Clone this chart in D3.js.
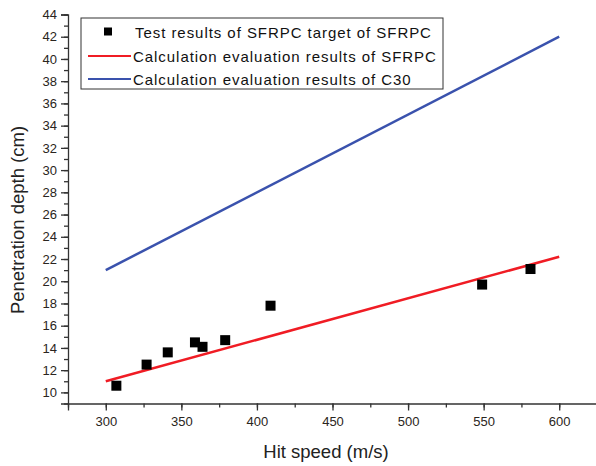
<!DOCTYPE html>
<html lang="en">
<head>
    <meta charset="UTF-8">
    <title>Penetration depth</title>
    <style>
        html, body { margin: 0; background: #fff; }
        .axis text { font-family: "Liberation Sans", Arial, sans-serif; font-size: 13px; fill: #2a2520; }
        .axis path, .axis line { stroke: #333; stroke-width: 1.3px; }
        .title { font-family: "Liberation Sans", Arial, sans-serif; font-size: 18.5px; fill: #222; }
        .legend text { font-family: "Liberation Sans", Arial, sans-serif; font-size: 15px; fill: #111; letter-spacing: 0.95px; }
    </style>
</head>
<body>
    <svg id="chart" width="596" height="466"></svg>
    <script src="https://d3js.org/d3.v7.min.js"></script>
    <script>
        // test points (speed m/s, depth cm)
        var testSpeed = [307, 327, 341, 359, 364, 379, 409, 549, 581];
        var testDepth = [10.6, 12.5, 13.6, 14.5, 14.1, 14.7, 17.8, 19.7, 21.1];
        // calculated lines, end points only
        var calcSpeed = [300, 600];
        var sfrpcDepth = [11.0, 22.2];
        var c30Depth = [21.0, 42.0];
        var xTicks = [300, 350, 400, 450, 500, 550, 600];
        var yTicks = [10, 12, 14, 16, 18, 20, 22, 24, 26, 28, 30, 32, 34, 36, 38, 40, 42, 44];
        var legendLabels = ["Test results of SFRPC target of SFRPC",
            "Calculation evaluation results of SFRPC",
            "Calculation evaluation results of C30"];

        var svg = d3.select("#chart");
        var x = d3.scaleLinear().domain([275, 625]).range([68, 597]);
        var y = d3.scaleLinear().domain([9, 44]).range([403.5, 14.5]);

        // minor ticks first
        svg.append("g").attr("class", "axis")
            .attr("transform", "translate(0,403.5)")
            .call(d3.axisBottom(x).tickValues(d3.range(275, 626, 25)).tickSize(4).tickFormat(""))
            .select(".domain").remove();
        svg.append("g").attr("class", "axis")
            .attr("transform", "translate(68,0)")
            .call(d3.axisLeft(y).tickValues(d3.range(9, 45, 1)).tickSize(4).tickFormat(""))
            .select(".domain").remove();

        svg.append("g").attr("class", "axis")
            .attr("transform", "translate(0,403.5)")
            .call(d3.axisBottom(x).tickValues(xTicks).tickSizeOuter(0).tickSize(7).tickPadding(6));
        svg.append("g").attr("class", "axis")
            .attr("transform", "translate(68,0)")
            .call(d3.axisLeft(y).tickValues(yTicks).tickSizeOuter(0).tickSize(7).tickPadding(4));

        var line = d3.line().x(d => x(d[0])).y(d => y(d[1]));

        svg.append("path")
            .attr("d", line(calcSpeed.map((s, i) => [s, c30Depth[i]])))
            .attr("fill", "none").attr("stroke", "#3a52ad").attr("stroke-width", 2.5);
        svg.append("path")
            .attr("d", line(calcSpeed.map((s, i) => [s, sfrpcDepth[i]])))
            .attr("fill", "none").attr("stroke", "#f01c24").attr("stroke-width", 2.5);

        svg.selectAll("rect.pt")
            .data(testSpeed.map((s, i) => [s, testDepth[i]]))
            .enter().append("rect")
            .attr("class", "pt")
            .attr("x", d => x(d[0]) - 5)
            .attr("y", d => y(d[1]) - 5)
            .attr("width", 10).attr("height", 10)
            .attr("fill", "#000");

        // axis titles
        svg.append("text").attr("class", "title")
            .attr("x", 326).attr("y", 458)
            .attr("text-anchor", "middle")
            .text("Hit speed (m/s)");
        svg.append("text").attr("class", "title")
            .attr("transform", "translate(24,220) rotate(-90)")
            .attr("text-anchor", "middle")
            .text("Penetration depth (cm)");

        // legend
        var lg = svg.append("g").attr("class", "legend");
        lg.append("rect")
            .attr("x", 81).attr("y", 18).attr("width", 362).attr("height", 71)
            .attr("fill", "#fff").attr("stroke", "#333").attr("stroke-width", 1);
        var rows = [32, 56, 79];
        lg.append("rect").attr("x", 104).attr("y", rows[0] - 4.5).attr("width", 8).attr("height", 8).attr("fill", "#000");
        lg.append("line").attr("x1", 88).attr("x2", 131).attr("y1", rows[1]).attr("y2", rows[1])
            .attr("stroke", "#f01c24").attr("stroke-width", 2);
        lg.append("line").attr("x1", 88).attr("x2", 131).attr("y1", rows[2]).attr("y2", rows[2])
            .attr("stroke", "#3a52ad").attr("stroke-width", 2);
        lg.selectAll("text.lab")
            .data(legendLabels)
            .enter().append("text")
            .attr("class", "lab")
            .attr("x", (d, i) => i == 0 ? 135 : 133)
            .attr("y", (d, i) => rows[i] + 5.5)
            .text(d => d);
    </script>
</body>
</html>
